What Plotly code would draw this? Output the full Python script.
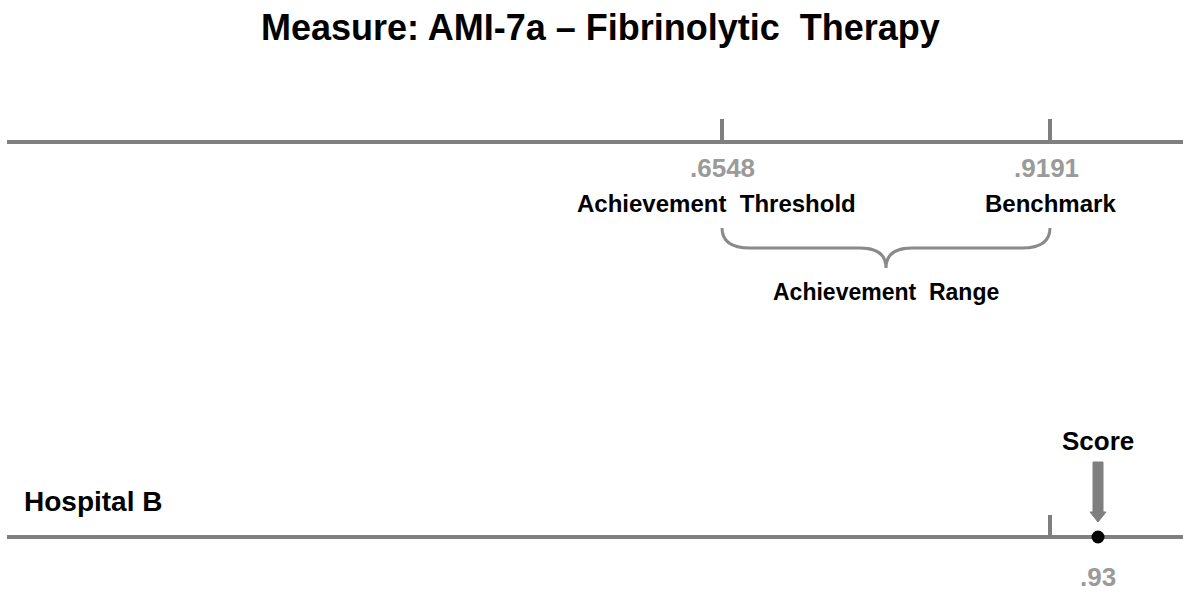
import plotly.graph_objects as go

# ---- data ----
measure_title = "Measure: AMI-7a \u2013 Fibrinolytic\u00a0 Therapy"
hospital = "Hospital B"
threshold_value = 0.6548
benchmark_value = 0.9191
score_value = 0.93
threshold_label = ".6548"
benchmark_label = ".9191"
score_label = ".93"
threshold_name = "Achievement\u00a0 Threshold"
benchmark_name = "Benchmark"
range_name = "Achievement\u00a0 Range"
score_name = "Score"

# ---- layout constants ----
W, H = 1183, 592
GRAY = "#7f7f7f"
LABEL_GRAY = "#9a9a9a"
FONT = "Liberation Sans, Arial, sans-serif"

# top scale: threshold and benchmark placed at these fractions of the width
f_th, f_bm = 722 / W, 1050 / W
span = (benchmark_value - threshold_value) / (f_bm - f_th)
x_range = [threshold_value - f_th * span, threshold_value + (1 - f_th) * span]
px_top = W / (x_range[1] - x_range[0])  # pixels per unit on the top scale

# bottom (hospital) scale: magnified around the benchmark
g_bm, g_sc = 1050 / W, 1098 / W
span2 = (score_value - benchmark_value) / (g_sc - g_bm)
x2_range = [benchmark_value - g_bm * span2, benchmark_value + (1 - g_bm) * span2]

Y_TOP, Y_BOT = 142, 537

fig = go.Figure()

# score dot
fig.add_trace(go.Scatter(
    x=[score_value], y=[Y_BOT], xaxis="x2", yaxis="y", mode="markers",
    marker=dict(size=13, color="black"), hoverinfo="skip", showlegend=False,
))

shapes = []
# main lines
for yv in (Y_TOP, Y_BOT):
    shapes.append(dict(type="line", xref="paper", yref="y", x0=7 / W, x1=1,
                       y0=yv, y1=yv, line=dict(color=GRAY, width=4), layer="below"))
# top ticks
for v in (threshold_value, benchmark_value):
    shapes.append(dict(type="line", xref="x", yref="y", x0=v, x1=v,
                       y0=Y_TOP - 23, y1=Y_TOP, line=dict(color=GRAY, width=4)))
# bottom benchmark tick
shapes.append(dict(type="line", xref="x2", yref="y", x0=benchmark_value, x1=benchmark_value,
                   y0=Y_BOT - 22, y1=Y_BOT, line=dict(color=GRAY, width=4)))

# brace under the achievement range
mid = (threshold_value + benchmark_value) / 2
d1 = 28 / px_top
d2 = 26 / px_top
yb0, yb1, yb2 = 228, 248, 268
brace = (f"M {threshold_value},{yb0} Q {threshold_value},{yb1} {threshold_value + d1},{yb1} "
         f"L {mid - d2},{yb1} Q {mid},{yb1} {mid},{yb2} "
         f"Q {mid},{yb1} {mid + d2},{yb1} "
         f"L {benchmark_value - d1},{yb1} Q {benchmark_value},{yb1} {benchmark_value},{yb0}")
shapes.append(dict(type="path", xref="x", yref="y", path=brace,
                   line=dict(color="#8a8a8a", width=3)))

# score arrow (pixel sized, anchored on the score)
arrow = "M -5,462 L 5,462 L 5,512 L 8,512 L 0,522 L -8,512 L -5,512 Z"
shapes.append(dict(type="path", xref="x2", yref="y", xsizemode="pixel", xanchor=score_value,
                   path=arrow, fillcolor=GRAY, line=dict(color=GRAY, width=1)))

ann = []
def text(x, y, s, xref="x", size=24, color="black", bold=True, xanchor="center", family=FONT):
    ann.append(dict(x=x, y=y, xref=xref, yref="y", text=f"<b>{s}</b>" if bold else s,
                    showarrow=False, xanchor=xanchor, yanchor="middle",
                    font=dict(size=size, color=color, family=family)))

text(600 / W, 27, measure_title, xref="paper", size=36)
text(threshold_value, 168, threshold_label, size=26, color=LABEL_GRAY)
text(benchmark_value - 4 / px_top, 168, benchmark_label, size=26, color=LABEL_GRAY)
text(threshold_value - 6 / px_top, 203, threshold_name, size=24)
text(benchmark_value, 203, benchmark_name, size=24)
text(mid, 292, range_name, size=23)
text(22 / W, 501, hospital, xref="paper", size=28, xanchor="left")
text(score_value, 441, score_name, xref="x2", size=26)
text(score_value, 577, score_label, xref="x2", size=26, color=LABEL_GRAY)

fig.update_layout(
    width=W, height=H, margin=dict(l=0, r=0, t=0, b=0),
    paper_bgcolor="white", plot_bgcolor="white",
    xaxis=dict(range=x_range, visible=False, fixedrange=True),
    xaxis2=dict(range=x2_range, visible=False, overlaying="x", anchor="y", fixedrange=True),
    yaxis=dict(range=[H, 0], visible=False, fixedrange=True),
    shapes=shapes, annotations=ann, showlegend=False,
)

fig.write_html("out.html", config={"displayModeBar": False},
               post_script="document.body.style.margin='0';document.body.style.overflow='hidden';")
